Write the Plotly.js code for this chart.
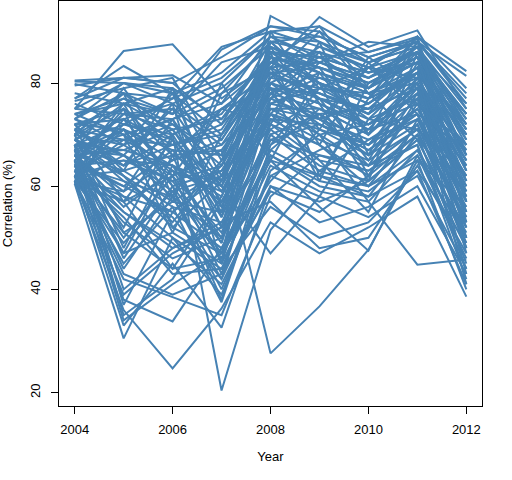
<!DOCTYPE html>
<html>
<head>
<meta charset="utf-8">
<script src="https://cdn.plot.ly/plotly-3.0.1.min.js"></script>
<style>html,body{margin:0;padding:0;background:#fff;}#chart{width:512px;height:480px;}</style>
</head>
<body>
<div id="chart"></div>
<script>
const years = [2004, 2005, 2006, 2007, 2008, 2009, 2010, 2011, 2012];
const xTicks = [2004, 2006, 2008, 2010, 2012];
const yTicks = [20, 40, 60, 80];

const s01 = [75, 86.2, 87.5, 77, 84, 80, 76, 82, 70];
const s02 = [77, 83.3, 78, 70, 86, 85, 79, 84, 66];
const s03 = [80.5, 81, 81.5, 76, 89, 88, 84, 87, 72];
const s04 = [80.3, 80, 79, 62, 85, 83, 70, 80, 60];
const s05 = [79.8, 78, 77, 87, 90, 91, 86, 89, 82.3];
const s06 = [79.5, 81, 80, 72, 88, 79, 74, 88, 81.4];
const s07 = [78, 76, 74, 86.5, 91, 90, 84, 88, 78];
const s08 = [76.5, 79, 81, 65, 78, 82, 79, 85, 68];
const s09 = [76, 72, 70, 55, 93, 88, 82, 86, 73];
const s10 = [75, 74, 73, 60, 83, 92.8, 87, 90.2, 75];
const s11 = [74, 70, 63, 50, 80, 85, 86, 88.5, 63];
const s12 = [73, 68, 72, 66, 87, 84, 80, 85, 70];
const s13 = [72, 75, 66, 45, 76, 80, 77, 82, 58];
const s14 = [71, 66, 58, 42, 73, 72, 68, 79, 55];
const s15 = [70, 78, 70, 75, 82, 77, 72, 76, 64];
const s16 = [69, 62, 52, 47, 70, 74, 75, 83, 50];
const s17 = [68, 64, 68, 70, 84, 86, 83, 81, 66];
const s18 = [67, 71, 60, 38, 68, 79, 78, 80, 61];
const s19 = [66, 58, 55, 62, 75, 70, 64, 78, 52];
const s20 = [65, 60, 67, 56, 79, 76, 71, 74, 67];
const s21 = [64, 50, 62, 43, 72, 68, 62, 76, 54];
const s22 = [63, 55, 48, 52, 80, 73, 66, 72, 48];
const s23 = [62, 45, 56, 37.5, 66, 60, 58, 70, 45];
const s24 = [61, 42, 38.5, 35, 58, 66, 63, 68, 42];
const s25 = [60.5, 30.5, 50, 44, 67, 62, 60, 65, 40];
const s26 = [62, 33, 45, 32.6, 60, 53, 56, 62, 44];
const s27 = [61, 36, 24.7, 36.3, 53, 47, 52, 58, 38.6];
const s28 = [65, 38, 33.8, 48, 65, 56, 47.5, 66, 50];
const s29 = [67, 35, 42, 57, 74, 65, 55, 73, 52];
const s30 = [68, 40, 48, 53, 57, 48, 50, 64, 47];
const s31 = [64, 44, 58, 40, 62, 58, 54, 60, 43];
const s32 = [70, 48, 66, 67, 27.6, 36.7, 47.7, 65, 56];
const s33 = [66, 52, 70, 20.4, 51.5, 63, 69, 75, 60];
const s34 = [63, 57, 44, 58, 78, 70, 57, 44.8, 45.8];
const s35 = [72, 62, 53, 65, 86, 80, 73, 71, 62];
const s36 = [69, 73, 76, 80, 89, 84, 81, 86, 76];
const s37 = [71, 77, 74, 84, 87, 82, 78, 83, 72];
const s38 = [68, 69, 64, 58, 81, 87, 84, 87, 69];
const s39 = [66, 67, 71, 73, 83, 78, 75, 79, 65];
const s40 = [64, 65, 61, 49, 77, 81, 79, 84, 71];
const s41 = [63, 72, 69, 54, 75, 75, 70, 80, 57];
const s42 = [62, 63, 57, 63, 71, 77, 73, 77, 59];
const s43 = [61, 59, 65, 68, 82, 83, 80, 85, 74];
const s44 = [65, 74, 75, 61, 88, 89, 85, 88, 77];
const s45 = [67, 66, 59, 46, 69, 72, 67, 74, 53];
const s46 = [70, 68, 62, 51, 74, 69, 65, 71, 49];
const s47 = [72, 73, 68, 71, 85, 82, 78, 82, 67];
const s48 = [74, 77, 72, 64, 80, 76, 72, 78, 61];
const s49 = [73, 80, 76, 69, 84, 81, 77, 86, 74];
const s50 = [69, 61, 54, 42, 62, 67, 71, 81, 63];
const s51 = [66, 56, 63, 59, 77, 73, 69, 73, 57];
const s52 = [64, 53, 46, 50, 71, 64, 61, 69, 51];
const s53 = [62, 47, 51, 45, 64, 59, 57, 67, 48];
const s54 = [63, 43, 39, 43, 59, 55, 62, 70, 55];
const s55 = [65, 34, 41, 47, 61, 71, 66, 75, 58];
const s56 = [61, 39, 47, 52, 68, 74, 64, 68, 44];
const s57 = [68, 46, 60, 63, 79, 78, 74, 80, 65];
const s58 = [70, 51, 57, 55, 73, 68, 60, 72, 53];
const s59 = [71, 64, 70, 74, 86, 85, 82, 84, 70];
const s60 = [67, 70, 73, 78, 88, 86, 81, 87, 73];
const s61 = [65, 71, 67, 66, 81, 79, 83, 86, 66];
const s62 = [69, 76, 71, 59, 76, 74, 68, 77, 62];
const s63 = [75, 80, 78, 82, 90, 87, 83, 89, 79];
const s64 = [77, 81, 80, 85, 91, 89, 85, 88, 76];
const s65 = [73, 78, 74, 79, 87, 83, 80, 84, 71];
const s66 = [62, 58, 50, 39, 63, 70, 72, 79, 59];
const s67 = [64, 60, 55, 48, 66, 61, 59, 66, 46];
const s68 = [66, 63, 66, 61, 78, 75, 72, 76, 64];
const s69 = [68, 67, 64, 57, 72, 65, 63, 70, 54];
const s70 = [63, 54, 43, 44, 56, 50, 53, 63, 41];
const s71 = [61, 49, 59, 62, 74, 71, 68, 74, 56];
const s72 = [60.8, 57, 62, 67, 80, 77, 75, 79, 68];
const s73 = [62, 69, 73, 76, 84, 80, 76, 83, 69];
const s74 = [70, 75, 69, 52, 70, 63, 60, 67, 52];
const s75 = [72, 71, 65, 69, 83, 84, 81, 85, 72];
const s76 = [74, 76, 79, 73, 86, 83, 79, 87, 75];
const s77 = [67, 62, 56, 53, 69, 66, 64, 71, 60];
const s78 = [65, 55, 49, 41, 60, 57, 61, 69, 50];
const s79 = [63, 51, 44, 46, 67, 75, 70, 78, 62];
const s80 = [69, 66, 61, 64, 79, 72, 67, 73, 58];
const s81 = [71, 69, 68, 72, 82, 78, 74, 82, 70];
const s82 = [66, 74, 71, 57, 75, 73, 76, 83, 65];
const s83 = [64, 61, 58, 50, 65, 62, 58, 63, 49];
const s84 = [62, 65, 64, 60, 76, 79, 77, 81, 63];
const s85 = [68, 72, 77, 81, 89, 85, 82, 86, 74];
const s86 = [60.5, 66, 75, 68, 77, 86, 70, 88, 57];
const s87 = [62, 71, 57, 78, 83, 68, 84, 74, 50];
const s88 = [64, 76, 60, 47, 82, 71, 85, 79, 43];
const s89 = [66, 59, 73, 52, 86, 62, 77, 89, 53];
const s90 = [67, 79, 66, 75, 72, 88, 66, 84, 61];
const s91 = [69, 64, 76, 45, 90, 76, 61, 86, 66];
const s92 = [71, 57, 69, 60, 47, 58, 73, 82, 47];
const s93 = [73, 70, 51, 70, 81, 90, 78, 69, 59];
const s94 = [65, 47, 64, 49, 88, 80, 62, 77, 41];
const s95 = [63, 68, 78, 56, 74, 84, 88, 87, 71];
const s96 = [61, 73, 62, 75, 79, 61, 80, 85, 55];
const s97 = [68, 37, 55, 64, 85, 77, 65, 81, 64];
const s98 = [70, 78, 58, 80, 65, 82, 70, 80, 48];
const s99 = [72, 63, 79, 54, 87, 73, 83, 76, 68];
const s100 = [64, 75, 52, 61, 84, 91, 79, 89, 57];

const allSeries = [s01,s02,s03,s04,s05,s06,s07,s08,s09,s10,s11,s12,s13,s14,s15,s16,s17,s18,s19,s20,
  s21,s22,s23,s24,s25,s26,s27,s28,s29,s30,s31,s32,s33,s34,s35,s36,s37,s38,s39,s40,
  s41,s42,s43,s44,s45,s46,s47,s48,s49,s50,s51,s52,s53,s54,s55,s56,s57,s58,s59,s60,
  s61,s62,s63,s64,s65,s66,s67,s68,s69,s70,s71,s72,s73,s74,s75,s76,s77,s78,s79,s80,
  s81,s82,s83,s84,s85,s86,s87,s88,s89,s90,s91,s92,s93,s94,s95,s96,s97,s98,s99,s100];

const traces = allSeries.map(function (s) {
  return {
    x: years, y: s, type: 'scatter', mode: 'lines',
    line: {color: '#4682B4', width: 2},
    hoverinfo: 'skip', showlegend: false
  };
});

const fnt = {family: 'Liberation Sans, Arial, sans-serif', size: 13, color: '#000'};

const layout = {
  width: 512, height: 480,
  margin: {l: 59, r: 30, t: 1, b: 74, pad: 0},
  paper_bgcolor: '#fff', plot_bgcolor: '#fff',
  font: fnt,
  showlegend: false,
  xaxis: {
    range: [2003.68, 2012.32], tickvals: xTicks, ticktext: xTicks.map(String),
    showgrid: false, zeroline: false,
    showline: true, mirror: true, linecolor: '#000', linewidth: 1,
    ticks: 'outside', ticklen: 7, tickcolor: '#000', tickwidth: 1,
    ticklabelstandoff: 4,
    tickfont: fnt,
    automargin: false,
    title: {text: 'Year', font: fnt, standoff: 16}
  },
  yaxis: {
    range: [17.4, 95.9], tickvals: yTicks, ticktext: yTicks.map(String),
    showgrid: false, zeroline: false,
    showline: true, mirror: true, linecolor: '#000', linewidth: 1,
    ticks: 'outside', ticklen: 7, tickcolor: '#000', tickwidth: 1,
    tickangle: -90, ticklabelstandoff: 6,
    tickfont: fnt,
    automargin: false,
    title: {text: 'Correlation (%)', font: fnt, standoff: 12}
  }
};

Plotly.newPlot('chart', traces, layout, {staticPlot: true, displayModeBar: false});
</script>
</body>
</html>
